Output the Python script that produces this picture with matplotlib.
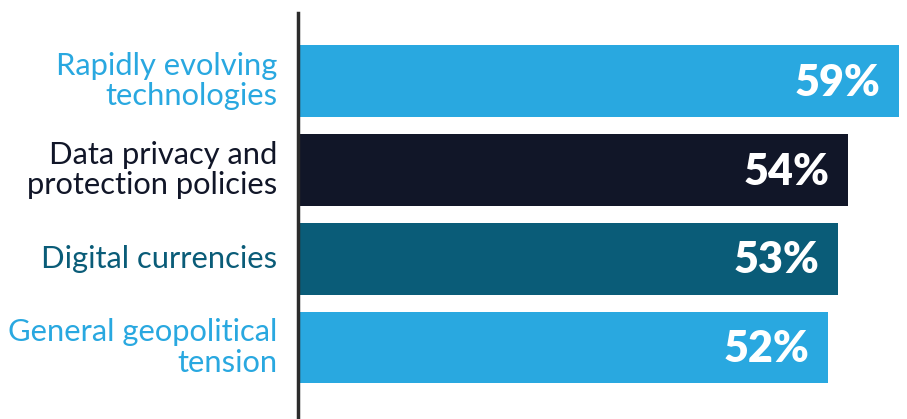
import matplotlib
matplotlib.use("Agg")
import matplotlib.pyplot as plt

categories = ["Rapidly evolving\ntechnologies", "Data privacy and\nprotection policies",
              "Digital currencies", "General geopolitical\ntension"]
values = [59, 54, 53, 52]
value_labels = ["59%", "54%", "53%", "52%"]
colors = ["#29A8E0", "#111628", "#0A5C78", "#29A8E0"]

plt.rcParams['font.family'] = ['Lato', 'DejaVu Sans']

W, H = 907, 419
fig = plt.figure(figsize=(W / 100, H / 100), dpi=100)
ax = fig.add_axes([298 / W, 0, (899 - 298) / W, (H - 13) / H])

y = list(range(len(categories)))
ax.barh(y, values, height=0.81, color=colors, zorder=2)
ax.set_xlim(0, 59)
ax.set_ylim(3.805, -0.766)

for yi, v, lab in zip(y, values, value_labels):
    ax.text(v - 1.8, yi + 0.02, lab, ha='right', va='center', color='white',
            fontsize=31, fontweight='heavy', zorder=3)

for yi, cat, c in zip(y, categories, colors):
    ax.text(-21 / 10.19, yi, cat, ha='right', va='center', color=c,
            fontsize=22.2, linespacing=1.1, transform=ax.transData)

for s in ['top', 'right', 'bottom']:
    ax.spines[s].set_visible(False)
ax.spines['left'].set_linewidth(2.5)
ax.spines['left'].set_color('#2b2b2b')
ax.spines['left'].set_zorder(4)
ax.set_xticks([])
ax.set_yticks([])

fig.savefig("out.png", dpi=100)
